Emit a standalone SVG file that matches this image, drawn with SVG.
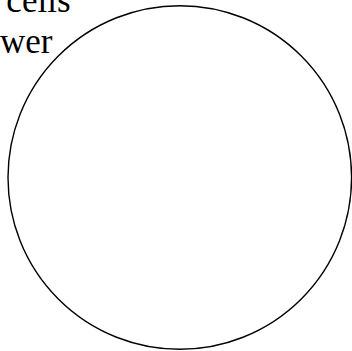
<svg xmlns="http://www.w3.org/2000/svg" width="352" height="351" viewBox="0 0 352 351">
<style>
.t{font-family:"Liberation Serif","Times New Roman",serif;font-size:35px;fill:#000;text-anchor:end}
.c{fill:none;stroke:#000;stroke-width:1.4}
</style>
<rect width="352" height="351" fill="#fff"/>
<g id="label">
<text class="t" x="70.5" y="11.5">cells</text>
<text class="t" x="52.5" y="53">wer</text>
</g>
<g id="circle">
<circle class="c" cx="179.8" cy="177.5" r="171.8"/>
</g>
</svg>
